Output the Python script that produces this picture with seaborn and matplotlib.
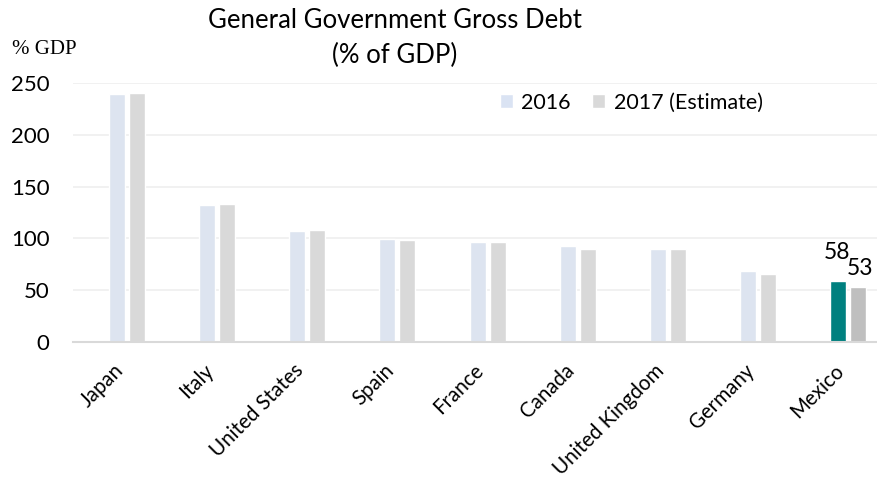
import matplotlib
matplotlib.use("Agg")
import matplotlib.pyplot as plt
import matplotlib.transforms as mtransforms
import seaborn as sns
import pandas as pd

countries = ["Japan", "Italy", "United States", "Spain", "France", "Canada",
             "United Kingdom", "Germany", "Mexico"]
debt_2016 = [239.0, 132.6, 107.4, 99.8, 96.5, 92.3, 89.3, 68.1, 58.4]
debt_2017 = [240.0, 133.2, 108.1, 98.6, 96.8, 89.7, 89.5, 65.3, 53.1]
series_names = ["2016", "2017 (Estimate)"]
y_ticks = [0, 50, 100, 150, 200, 250]

df = pd.DataFrame({
    "country": countries * 2,
    "value": debt_2016 + debt_2017,
    "series": [series_names[0]] * len(countries) + [series_names[1]] * len(countries),
})

sns.set_theme(style="white")
plt.rcParams["font.family"] = ["Lato", "DejaVu Sans"]
plt.rcParams["text.color"] = "black"
plt.rcParams["xtick.color"] = "black"
plt.rcParams["ytick.color"] = "black"

fig = plt.figure(figsize=(8.77, 4.86), dpi=100)
ax = fig.add_axes([73 / 877, 1 - 342 / 486, 1 - 73 / 877, (342 - 83) / 486])

palette = {series_names[0]: "#DAE3F3", series_names[1]: "#D9D9D9"}
sns.barplot(data=df, x="country", y="value", hue="series", palette=palette,
            width=0.444, gap=0.2, ax=ax, legend=True, zorder=3)

# highlight Mexico
hl_colors = {series_names[0]: "#00807F", series_names[1]: "#BFBFBF"}
for cont, name in zip(ax.containers, series_names):
    bar = cont.patches[countries.index("Mexico")]
    bar.set_facecolor(hl_colors[name])

# labels on Mexico bars
i_mx = countries.index("Mexico")
offsets = [(-1, 13), (1, 6)]
for cont, vals, off in zip(ax.containers, [debt_2016, debt_2017], offsets):
    bar = cont.patches[i_mx]
    ax.annotate(f"{round(vals[i_mx])}", (bar.get_x() + bar.get_width() / 2, bar.get_height()),
                xytext=off, textcoords="offset points", ha="center", va="bottom",
                fontsize=16.5, color="black", zorder=5)

ax.set_ylim(0, 250)
ax.set_xlim(-0.6, 8.32)
ax.set_yticks(y_ticks)
ax.set_yticklabels([str(t) for t in y_ticks], fontsize=16)
ax.tick_params(axis="y", length=0, pad=17)
ax.tick_params(axis="x", length=0, pad=4)
ax.set_xticks(range(len(countries)))
ax.set_xticklabels(countries, rotation=45, ha="right", rotation_mode="anchor", fontsize=14.8)
shift = mtransforms.ScaledTranslation(-14 / 100, -13 / 100, fig.dpi_scale_trans)
for lab in ax.get_xticklabels():
    lab.set_transform(lab.get_transform() + shift)
ax.set_xlabel("")
ax.set_ylabel("")
ax.yaxis.grid(True, color="#EFEFEF", linewidth=1.2, zorder=0)
ax.set_axisbelow(True)
for s in ["top", "right", "left"]:
    ax.spines[s].set_visible(False)
ax.spines["bottom"].set_color("#D9D9D9")
ax.spines["bottom"].set_linewidth(1.5)
ax.spines["bottom"].set_zorder(4)

leg = ax.legend(loc="upper left", bbox_to_anchor=(0.52, 0.995), ncol=2, frameon=False,
                fontsize=15.5, handlelength=0.6, handleheight=0.6, handletextpad=0.4,
                columnspacing=1.0, borderaxespad=0)
for h, name in zip(leg.legend_handles, series_names):
    h.set_facecolor(palette[name])

fig.text(395 / 877, 1 - 20 / 486, "General Government Gross Debt", ha="center", va="center",
         fontsize=18.5)
fig.text(395 / 877, 1 - 55 / 486, "(% of GDP)", ha="center", va="center", fontsize=18.5)
fig.text(12 / 877, 1 - 50 / 486, "% GDP", ha="left", va="center", fontsize=15,
         family=["Liberation Serif", "DejaVu Serif"])

fig.savefig("out.png", dpi=100)
